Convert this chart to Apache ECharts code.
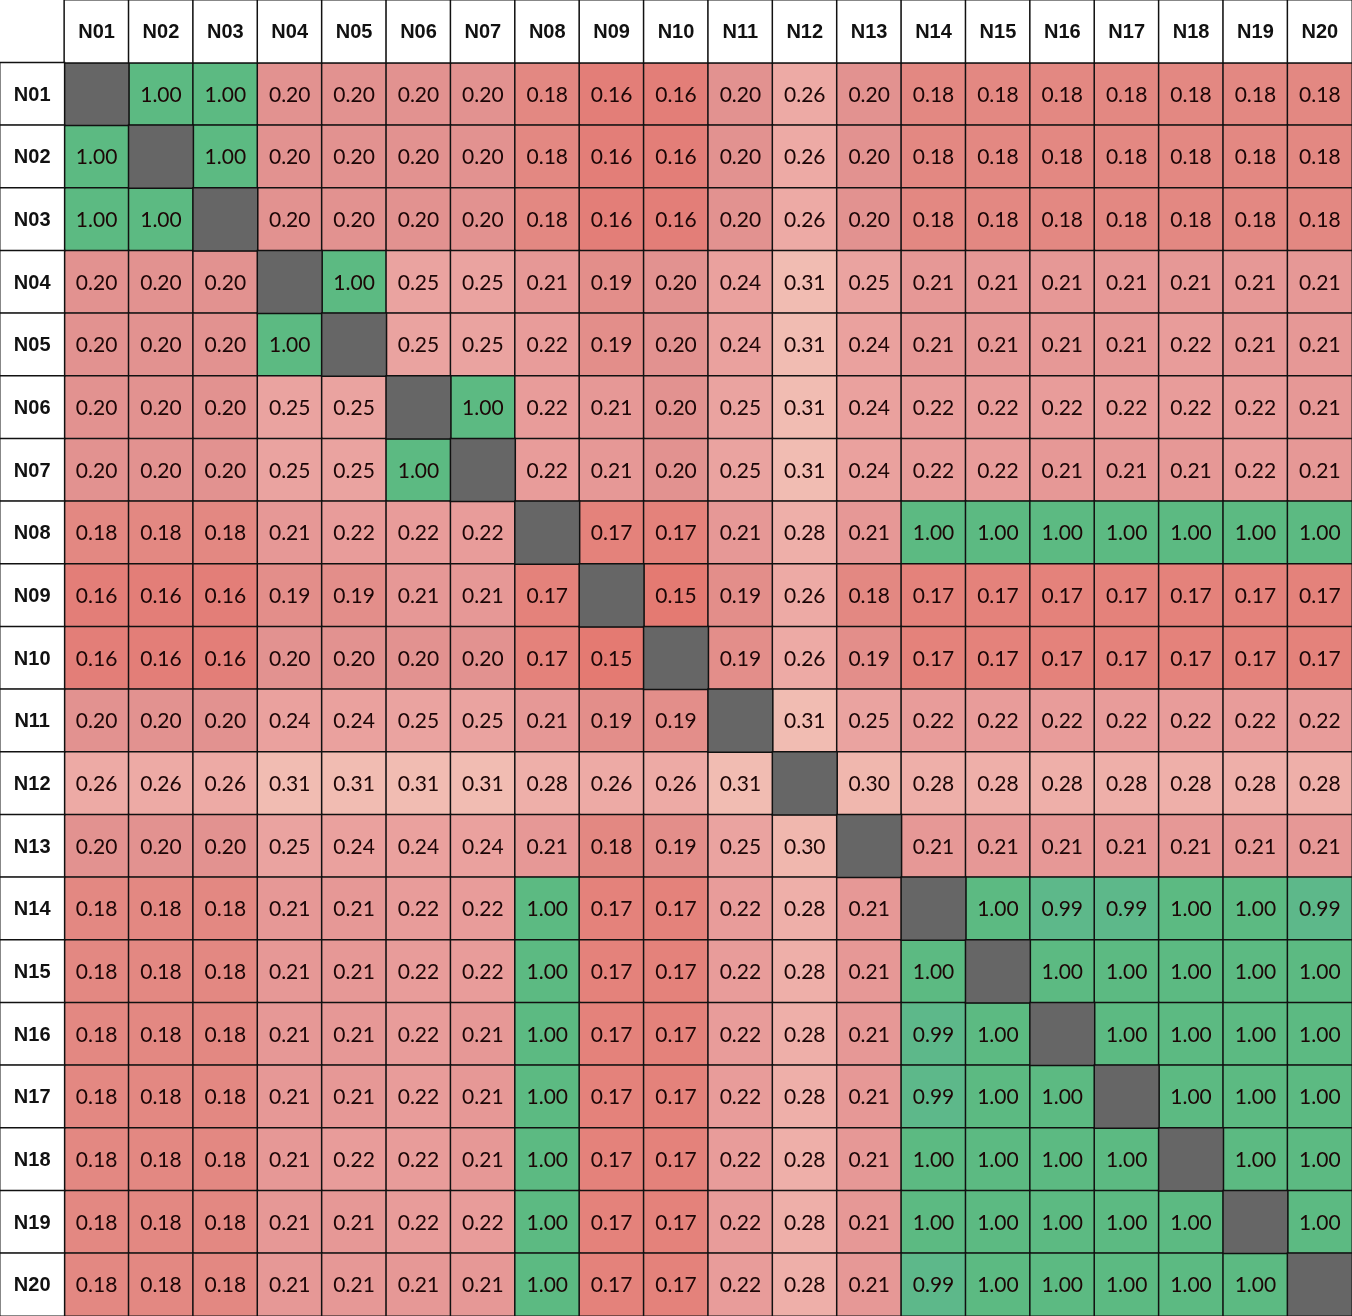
<!DOCTYPE html>
<html>
<head>
<meta charset="utf-8">
<script src="https://cdn.jsdelivr.net/npm/echarts@6/dist/echarts.min.js"></script>
<style>
html,body{margin:0;padding:0;background:#fff;}
#chart{width:1352px;height:1316px;}
</style>
</head>
<body>
<div id="chart"></div>
<script>
const names = ['N01','N02','N03','N04','N05','N06','N07','N08','N09','N10','N11','N12','N13','N14','N15','N16','N17','N18','N19','N20'];

const rowN01 = [null,1.00,1.00,0.20,0.20,0.20,0.20,0.18,0.16,0.16,0.20,0.26,0.20,0.18,0.18,0.18,0.18,0.18,0.18,0.18];
const rowN02 = [1.00,null,1.00,0.20,0.20,0.20,0.20,0.18,0.16,0.16,0.20,0.26,0.20,0.18,0.18,0.18,0.18,0.18,0.18,0.18];
const rowN03 = [1.00,1.00,null,0.20,0.20,0.20,0.20,0.18,0.16,0.16,0.20,0.26,0.20,0.18,0.18,0.18,0.18,0.18,0.18,0.18];
const rowN04 = [0.20,0.20,0.20,null,1.00,0.25,0.25,0.21,0.19,0.20,0.24,0.31,0.25,0.21,0.21,0.21,0.21,0.21,0.21,0.21];
const rowN05 = [0.20,0.20,0.20,1.00,null,0.25,0.25,0.22,0.19,0.20,0.24,0.31,0.24,0.21,0.21,0.21,0.21,0.22,0.21,0.21];
const rowN06 = [0.20,0.20,0.20,0.25,0.25,null,1.00,0.22,0.21,0.20,0.25,0.31,0.24,0.22,0.22,0.22,0.22,0.22,0.22,0.21];
const rowN07 = [0.20,0.20,0.20,0.25,0.25,1.00,null,0.22,0.21,0.20,0.25,0.31,0.24,0.22,0.22,0.21,0.21,0.21,0.22,0.21];
const rowN08 = [0.18,0.18,0.18,0.21,0.22,0.22,0.22,null,0.17,0.17,0.21,0.28,0.21,1.00,1.00,1.00,1.00,1.00,1.00,1.00];
const rowN09 = [0.16,0.16,0.16,0.19,0.19,0.21,0.21,0.17,null,0.15,0.19,0.26,0.18,0.17,0.17,0.17,0.17,0.17,0.17,0.17];
const rowN10 = [0.16,0.16,0.16,0.20,0.20,0.20,0.20,0.17,0.15,null,0.19,0.26,0.19,0.17,0.17,0.17,0.17,0.17,0.17,0.17];
const rowN11 = [0.20,0.20,0.20,0.24,0.24,0.25,0.25,0.21,0.19,0.19,null,0.31,0.25,0.22,0.22,0.22,0.22,0.22,0.22,0.22];
const rowN12 = [0.26,0.26,0.26,0.31,0.31,0.31,0.31,0.28,0.26,0.26,0.31,null,0.30,0.28,0.28,0.28,0.28,0.28,0.28,0.28];
const rowN13 = [0.20,0.20,0.20,0.25,0.24,0.24,0.24,0.21,0.18,0.19,0.25,0.30,null,0.21,0.21,0.21,0.21,0.21,0.21,0.21];
const rowN14 = [0.18,0.18,0.18,0.21,0.21,0.22,0.22,1.00,0.17,0.17,0.22,0.28,0.21,null,1.00,0.99,0.99,1.00,1.00,0.99];
const rowN15 = [0.18,0.18,0.18,0.21,0.21,0.22,0.22,1.00,0.17,0.17,0.22,0.28,0.21,1.00,null,1.00,1.00,1.00,1.00,1.00];
const rowN16 = [0.18,0.18,0.18,0.21,0.21,0.22,0.21,1.00,0.17,0.17,0.22,0.28,0.21,0.99,1.00,null,1.00,1.00,1.00,1.00];
const rowN17 = [0.18,0.18,0.18,0.21,0.21,0.22,0.21,1.00,0.17,0.17,0.22,0.28,0.21,0.99,1.00,1.00,null,1.00,1.00,1.00];
const rowN18 = [0.18,0.18,0.18,0.21,0.22,0.22,0.21,1.00,0.17,0.17,0.22,0.28,0.21,1.00,1.00,1.00,1.00,null,1.00,1.00];
const rowN19 = [0.18,0.18,0.18,0.21,0.21,0.22,0.22,1.00,0.17,0.17,0.22,0.28,0.21,1.00,1.00,1.00,1.00,1.00,null,1.00];
const rowN20 = [0.18,0.18,0.18,0.21,0.21,0.21,0.21,1.00,0.17,0.17,0.22,0.28,0.21,0.99,1.00,1.00,1.00,1.00,1.00,null];

const rows = [rowN01,rowN02,rowN03,rowN04,rowN05,rowN06,rowN07,rowN08,rowN09,rowN10,
              rowN11,rowN12,rowN13,rowN14,rowN15,rowN16,rowN17,rowN18,rowN19,rowN20];

// axis categories: first slot is the header column/row
const cats = [''].concat(names);

const cellData = [];
const diagData = [];
rows.forEach((row, r) => {
  row.forEach((v, c) => {
    if (v === null) diagData.push([c + 1, r + 1, 0]);
    else cellData.push([c + 1, r + 1, v]);
  });
});
const headerData = [];
names.forEach((n, i) => {
  headerData.push({ name: n, value: [i + 1, 0, 0] });
  headerData.push({ name: n, value: [0, i + 1, 0] });
});

const pieces = [
  { min: 0.145, max: 0.155, color: '#e47a72' },
  { min: 0.155, max: 0.165, color: '#e37e78' },
  { min: 0.165, max: 0.175, color: '#e4827b' },
  { min: 0.175, max: 0.185, color: '#e38882' },
  { min: 0.185, max: 0.195, color: '#e38e8a' },
  { min: 0.195, max: 0.205, color: '#e29290' },
  { min: 0.205, max: 0.215, color: '#e69896' },
  { min: 0.215, max: 0.225, color: '#e89c9a' },
  { min: 0.235, max: 0.245, color: '#eaa19e' },
  { min: 0.245, max: 0.255, color: '#eaa3a0' },
  { min: 0.255, max: 0.265, color: '#edaaa5' },
  { min: 0.275, max: 0.285, color: '#eeafa9' },
  { min: 0.295, max: 0.305, color: '#f0b7ae' },
  { min: 0.305, max: 0.315, color: '#f1bcb2' },
  { min: 0.985, max: 0.995, color: '#5db88a' },
  { min: 0.995, max: 1.005, color: '#5cba82' }
];

const chart = echarts.init(document.getElementById('chart'));
chart.setOption({
  animation: false,
  backgroundColor: '#ffffff',
  grid: { left: 0, right: 0, top: 0, bottom: 0 },
  xAxis: {
    type: 'category', data: cats, position: 'top',
    axisLine: { show: false }, axisTick: { show: false }, axisLabel: { show: false }, splitLine: { show: false }
  },
  yAxis: {
    type: 'category', data: cats, inverse: true,
    axisLine: { show: false }, axisTick: { show: false }, axisLabel: { show: false }, splitLine: { show: false }
  },
  visualMap: {
    show: false, type: 'piecewise', seriesIndex: 0, dimension: 2, pieces: pieces
  },
  series: [
    {
      type: 'heatmap',
      data: cellData,
      itemStyle: { borderColor: '#111', borderWidth: 1.5 },
      label: {
        show: true,
        formatter: p => p.value[2].toFixed(2),
        fontFamily: 'Lato',
        fontSize: 21,
        color: '#1c0606',
        offset: [0, 1]
      },
      emphasis: { disabled: true }
    },
    {
      type: 'heatmap',
      data: diagData,
      itemStyle: { color: '#666666', borderColor: '#111', borderWidth: 1.5 },
      label: { show: false },
      emphasis: { disabled: true }
    },
    {
      type: 'heatmap',
      data: headerData,
      itemStyle: { color: '#ffffff', borderColor: '#111', borderWidth: 1.5 },
      label: {
        show: true,
        formatter: p => p.name,
        fontFamily: 'Liberation Sans',
        fontWeight: 'bold',
        fontSize: 20,
        color: '#111',
        offset: [0, 1]
      },
      emphasis: { disabled: true }
    }
  ]
});
</script>
</body>
</html>
